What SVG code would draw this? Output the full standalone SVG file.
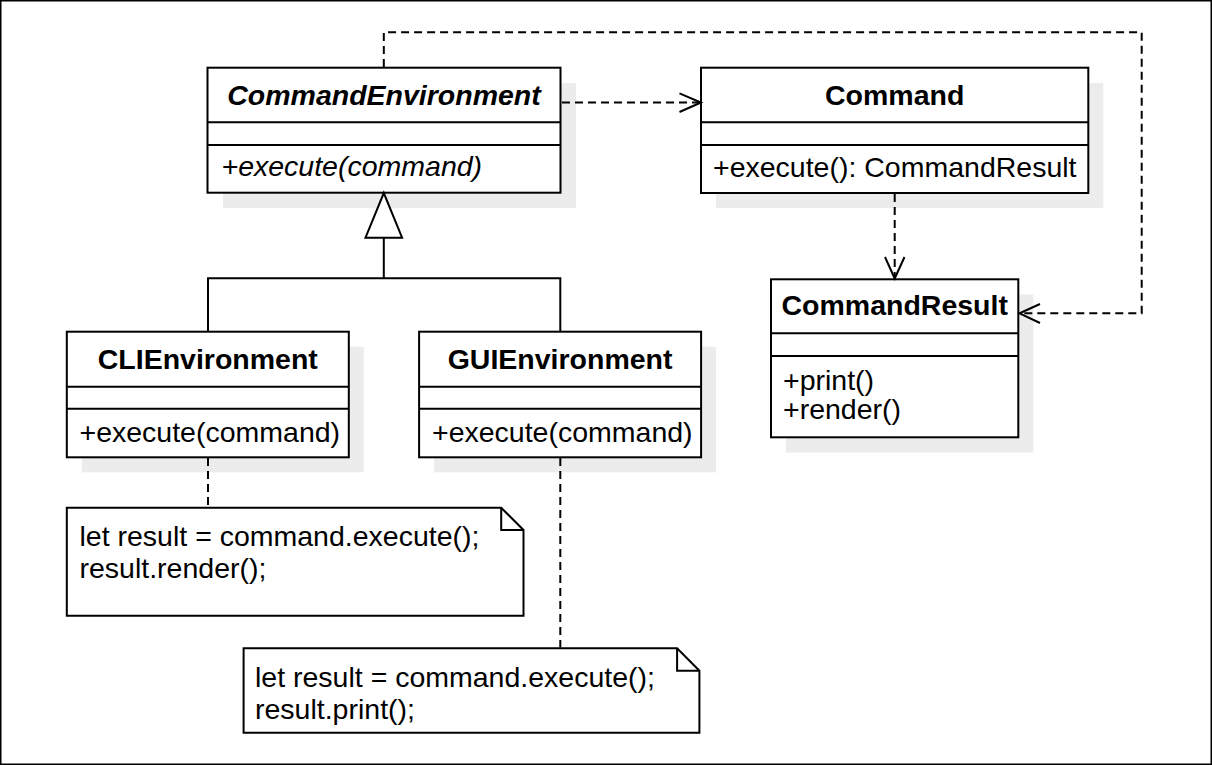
<svg xmlns="http://www.w3.org/2000/svg" width="1212" height="765" viewBox="0 0 1212 765">
<style>
.box{fill:#fff;stroke:#000;stroke-width:2}
.sh{fill:#ececec}
.div{stroke:#000;stroke-width:2}
.t{font-family:"Liberation Sans",Arial,sans-serif;font-size:28.5px;fill:#000}
.b{font-weight:bold}
.i{font-style:italic}
.c{text-anchor:middle}
.ln{fill:none;stroke:#000;stroke-width:2}
.dash{fill:none;stroke:#000;stroke-width:2;stroke-dasharray:8 5}
.head{fill:none;stroke:#000;stroke-width:2}
</style>
<rect x="0.75" y="0.75" width="1210.5" height="763.5" fill="#fff" stroke="#000" stroke-width="1.5"/>
<g id="CommandEnvironment">
<rect class="sh" x="223" y="83" width="353" height="125"/>
<rect class="box" x="207.5" y="67.7" width="353" height="125"/>
<path class="div" d="M207.5,122.3H560.5M207.5,145H560.5"/>
<text class="t b i c" x="384" y="105">CommandEnvironment</text>
<text class="t i" x="221.5" y="176">+execute(command)</text>
</g>
<g id="Command">
<rect class="sh" x="716" y="83" width="387.3" height="125"/>
<rect class="box" x="701" y="67.7" width="387.3" height="125.3"/>
<path class="div" d="M701,122.3H1088.3M701,145H1088.3"/>
<text class="t b c" x="894.7" y="105">Command</text>
<text class="t" x="713" y="177">+execute(): CommandResult</text>
</g>
<g id="CommandResult">
<rect class="sh" x="786" y="294.5" width="247.3" height="158"/>
<rect class="box" x="771" y="279.3" width="247.3" height="158"/>
<path class="div" d="M771,333.3H1018.3M771,356H1018.3"/>
<text class="t b c" x="894.7" y="315">CommandResult</text>
<text class="t" x="783" y="390">+print()</text>
<text class="t" x="783" y="419">+render()</text>
</g>
<g id="CLIEnvironment">
<rect class="sh" x="81.8" y="346.7" width="282" height="125.6"/>
<rect class="box" x="66.8" y="331.7" width="282" height="125.6"/>
<path class="div" d="M66.8,386.7H348.8M66.8,408.7H348.8"/>
<text class="t b c" x="207.8" y="369">CLIEnvironment</text>
<text class="t" x="79.5" y="442">+execute(command)</text>
</g>
<g id="GUIEnvironment">
<rect class="sh" x="434.1" y="346.7" width="282" height="125.6"/>
<rect class="box" x="419.1" y="331.7" width="282" height="125.6"/>
<path class="div" d="M419.1,386.7H701.1M419.1,408.7H701.1"/>
<text class="t b c" x="560.1" y="369">GUIEnvironment</text>
<text class="t" x="432" y="442">+execute(command)</text>
</g>
<g id="note1">
<path class="box" d="M66.8,507.7H501.2L523.5,530V615.7H66.8Z"/>
<path class="ln" d="M501.2,507.7V530H523.5"/>
<text class="t" x="79.5" y="546">let result = command.execute();</text>
<text class="t" x="79.5" y="578">result.render();</text>
</g>
<g id="note2">
<path class="box" d="M243.6,648.3H677.1L699.4,670.7V732.7H243.6Z"/>
<path class="ln" d="M677.1,648.3V670.7H699.4"/>
<text class="t" x="255" y="686.5">let result = command.execute();</text>
<text class="t" x="255" y="719">result.print();</text>
</g>
<g id="connectors">
<path class="ln" d="M383.8,237.7V278.3M208,331.7V278.3H560.3V331.7"/>
<polygon points="383.8,193 365.5,237.7 402.1,237.7" fill="#fff" stroke="#000" stroke-width="2"/>
<path class="dash" d="M562,102.5H699"/>
<path class="head" d="M679.5,93.3L701,102.5L679.5,112"/>
<path class="dash" d="M894.7,194V277"/>
<path class="head" d="M885,257L894.7,278.5L904.5,257"/>
<path class="dash" d="M383.8,67V32.3H1141.7V313.3H1021"/>
<path class="head" d="M1040,304L1019.5,313.3L1040,323"/>
<path class="dash" d="M208,458V507"/>
<path class="dash" d="M560.3,458V647.5"/>
</g>
</svg>
